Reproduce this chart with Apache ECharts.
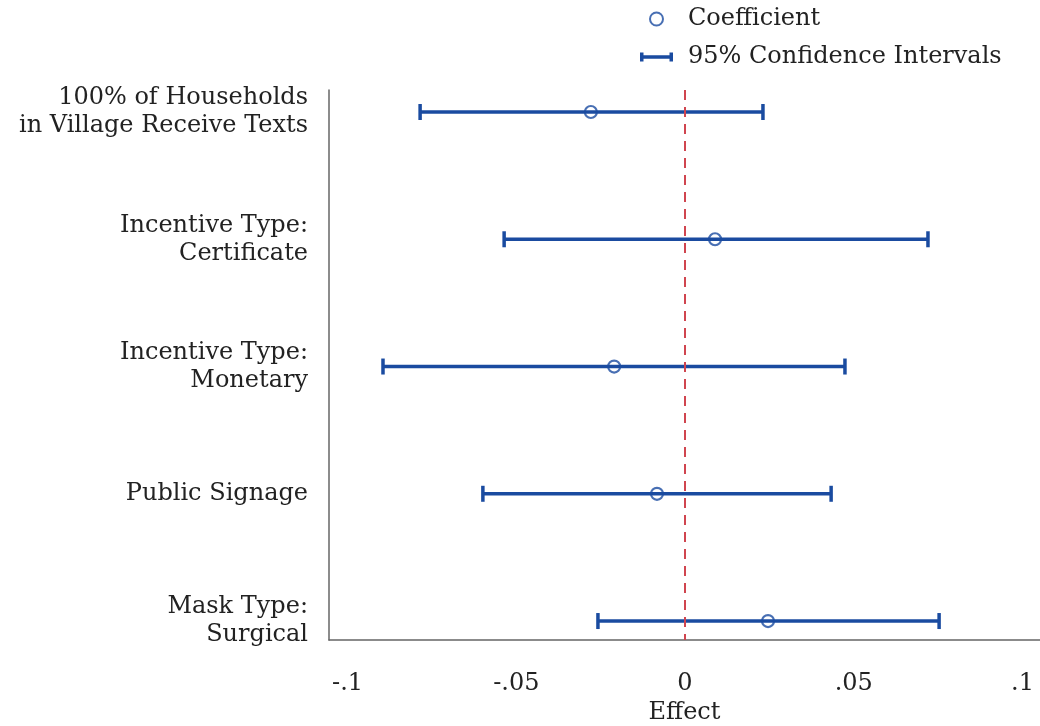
<!DOCTYPE html>
<html>
<head>
<meta charset="utf-8">
<script src="https://cdn.jsdelivr.net/npm/echarts@6/dist/echarts.min.js"></script>
<style>
html,body{margin:0;padding:0;background:#fff;}
#chart{width:1040px;height:726px;}
</style>
</head>
<body>
<div id="chart"></div>
<script>
var categories = [
  "100% of Households\nin Village Receive Texts",
  "Incentive Type:\nCertificate",
  "Incentive Type:\nMonetary",
  "Public Signage",
  "Mask Type:\nSurgical"
];
var coefficients = [-0.0279, 0.0089, -0.0210, -0.0083, 0.0246];
var lowerCI = [-0.0785, -0.0536, -0.0895, -0.0599, -0.0258];
var upperCI = [0.0231, 0.0720, 0.0474, 0.0433, 0.0753];
var xTicks = [-0.1, -0.05, 0, 0.05, 0.1];

var BLUE = '#1a4ba0';
var RED = '#d0454f';
var FONT = 'DejaVu Serif';
var FS = 24;

var rowPos = categories.map(function (c, i) { return i + 1; });
var pointData = coefficients.map(function (v, i) { return [v, rowPos[i]]; });
var ciData = lowerCI.map(function (v, i) { return [v, upperCI[i], rowPos[i]]; });

function fmtTick(v) {
  if (Math.abs(v) < 1e-12) return '0';
  var s = String(+v.toFixed(4));
  return s.replace(/^(-?)0\./, '$1.');
}

var chart = echarts.init(document.getElementById('chart'));
chart.setOption({
  animation: false,
  textStyle: { fontFamily: FONT },
  grid: { left: 329, right: 0, top: 90, bottom: 86, containLabel: false, outerBoundsMode: 'none' },
  legend: {
    orient: 'vertical',
    left: 640,
    top: 7,
    padding: 0,
    itemWidth: 33,
    itemHeight: 13,
    itemGap: 14,
    textStyle: { fontFamily: FONT, fontSize: FS, color: '#222', padding: [0, 0, 0, 10] },
    data: [
      { name: 'Coefficient', icon: 'circle',
        itemStyle: { color: 'rgba(0,0,0,0)', borderColor: BLUE, borderWidth: 2 } },
      { name: '95% Confidence Intervals',
        icon: 'path://M0,0 L3.5,0 L3.5,2.7 L29.5,2.7 L29.5,0 L33,0 L33,9 L29.5,9 L29.5,6.3 L3.5,6.3 L3.5,9 L0,9 Z',
        itemStyle: { color: BLUE, borderWidth: 0 } }
    ]
  },
  xAxis: {
    type: 'value',
    min: -0.1055,
    max: 0.1052,
    name: 'Effect',
    nameLocation: 'middle',
    nameGap: 57,
    nameTextStyle: { fontFamily: FONT, fontSize: FS, color: '#222' },
    axisLine: { show: true, onZero: false, lineStyle: { color: '#666', width: 1.5 } },
    axisTick: { show: false },
    splitLine: { show: false },
    axisLabel: {
      customValues: xTicks,
      formatter: fmtTick,
      fontFamily: FONT, fontSize: FS, color: '#222', margin: 32
    }
  },
  yAxis: {
    type: 'value',
    inverse: true,
    min: 0.827,
    max: 5.149,
    axisLine: { show: true, onZero: false, lineStyle: { color: '#666', width: 1.5 } },
    axisTick: { show: false },
    splitLine: { show: false },
    axisLabel: {
      customValues: rowPos,
      formatter: function (v) { return categories[Math.round(v) - 1] || ''; },
      fontFamily: FONT, fontSize: FS, color: '#222', margin: 21, lineHeight: 28, align: 'right'
    }
  },
  series: [
    {
      name: '95% Confidence Intervals',
      type: 'custom',
      data: ciData,
      encode: { x: [0, 1], y: 2 },
      z: 2,
      renderItem: function (params, api) {
        var y = api.value(2);
        var p1 = api.coord([api.value(0), y]);
        var p2 = api.coord([api.value(1), y]);
        var h = 8;
        var style = { stroke: BLUE, lineWidth: 3.5, fill: null };
        return {
          type: 'group',
          children: [
            { type: 'line', shape: { x1: p1[0], y1: p1[1], x2: p2[0], y2: p2[1] }, style: style },
            { type: 'line', shape: { x1: p1[0], y1: p1[1] - h, x2: p1[0], y2: p1[1] + h }, style: style },
            { type: 'line', shape: { x1: p2[0], y1: p2[1] - h, x2: p2[0], y2: p2[1] + h }, style: style }
          ]
        };
      }
    },
    {
      name: 'Coefficient',
      type: 'scatter',
      data: pointData,
      symbol: 'circle',
      symbolSize: 12,
      z: 3,
      itemStyle: { color: 'rgba(0,0,0,0)', borderColor: BLUE, borderWidth: 2.2 },
      markLine: {
        silent: true,
        symbol: 'none',
        label: { show: false },
        lineStyle: { color: RED, type: [10, 7], width: 2 },
        data: [{ xAxis: 0 }]
      }
    }
  ]
});
</script>
</body>
</html>
